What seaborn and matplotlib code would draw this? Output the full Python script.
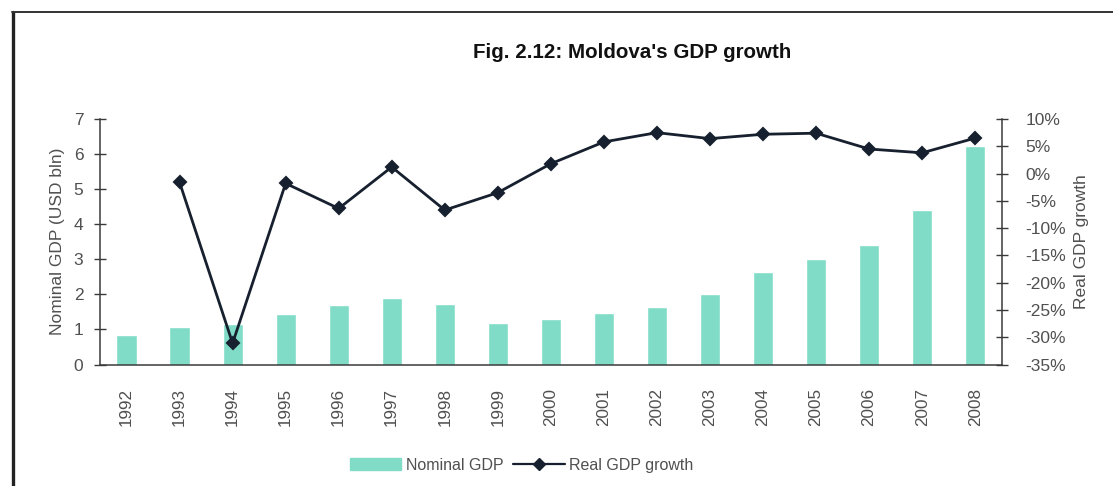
import matplotlib
matplotlib.use("Agg")
import matplotlib.pyplot as plt
import matplotlib.lines as mlines
import seaborn as sns
import pandas as pd
import numpy as np

# Moldova: nominal GDP (USD bn) and real GDP growth (%)
years = [str(y) for y in range(1992, 2009)]
nominal_gdp = [0.84, 1.07, 1.15, 1.44, 1.69, 1.91, 1.72, 1.18, 1.29, 1.46,
               1.64, 2.00, 2.63, 3.00, 3.40, 4.40, 6.24]
growth_years = years[1:]
real_growth = [-1.6, -31.1, -1.8, -6.4, 1.2, -6.7, -3.5, 1.8, 5.8, 7.5,
               6.4, 7.2, 7.4, 4.5, 3.8, 6.5]

bar_color = "#80dcc6"
line_color = "#17202e"
text_color = "#505050"
axis_color = "#3a3a3a"

sns.set_theme(style="white")
plt.rcParams["font.family"] = ["Liberation Sans", "DejaVu Sans"]

fig = plt.figure(figsize=(11.13, 4.86), dpi=100)
ax = fig.add_axes([100 / 1113, 1 - 364.5 / 486, 901.7 / 1113, 245.5 / 486])

df_bar = pd.DataFrame({"year": years, "gdp": nominal_gdp})
sns.barplot(data=df_bar, x="year", y="gdp", order=years, color=bar_color,
            saturation=1, width=0.38, ax=ax, zorder=2)

ax2 = ax.twinx()
df_line = pd.DataFrame({"year": growth_years, "growth": real_growth})
sns.pointplot(data=df_line, x="year", y="growth", order=years,
              color=line_color, markers="D", markersize=6.5, linewidth=2.0,
              ax=ax2, zorder=3)

# Left axis
ax.set_ylim(0, 7)
ax.set_yticks(range(0, 8))
ax.set_xlim(-0.5, len(years) - 0.5)
ax.set_ylabel("Nominal GDP (USD bln)", fontsize=12.5, color=text_color, labelpad=6)
ax.set_xlabel("")

# Right axis
ax2.set_ylim(-35, 10)
ax2.set_yticks(range(-35, 11, 5))
ax2.set_yticklabels([f"{v}%" for v in range(-35, 11, 5)])
ax2.set_ylabel("Real GDP growth", fontsize=12.5, color=text_color, labelpad=6)
ax2.set_xlabel("")
ax2.set_xlim(-0.5, len(years) - 0.5)

# Category ticks sit on the boundaries between years; labels centred on bars
ax.set_xticks(np.arange(-0.5, len(years), 1.0))
ax.set_xticklabels([])
ax.set_xticks(np.arange(len(years)), minor=True)
ax.set_xticklabels(years, minor=True, rotation=90, fontsize=12.3, color=text_color)
ax.tick_params(axis="x", which="major", direction="inout", length=8, width=1,
               color=axis_color)
ax.tick_params(axis="x", which="minor", length=0, pad=17)
ax.tick_params(axis="y", direction="inout", length=8, width=1, color=axis_color,
               labelsize=12.5, labelcolor=text_color, pad=8)
ax2.tick_params(axis="y", direction="inout", length=8, width=1, color=axis_color,
                labelsize=12.5, labelcolor=text_color, pad=13)

for a in (ax, ax2):
    a.spines["top"].set_visible(False)
    for s in ("left", "right", "bottom"):
        a.spines[s].set_color(axis_color)
        a.spines[s].set_linewidth(1.1)
ax.spines["right"].set_visible(False)
ax2.spines["left"].set_visible(False)
ax2.spines["bottom"].set_visible(False)
ax.grid(False)
ax2.grid(False)

fig.text(632 / 1113, 1 - 52 / 486, "Fig. 2.12: Moldova's GDP growth",
         ha="center", va="center", fontsize=14.8, fontweight="bold", color="#111111")

# Legend
bar_handle = plt.Rectangle((0, 0), 1, 1, color=bar_color)
line_handle = mlines.Line2D([], [], color=line_color, marker="D", markersize=6,
                            linewidth=1.6)
fig.legend([bar_handle, line_handle], ["Nominal GDP", "Real GDP growth"],
           loc="center", bbox_to_anchor=(522 / 1113, 1 - 465 / 486), ncol=2,
           frameon=False, fontsize=11.5, handlelength=3.2, handletextpad=0.3,
           columnspacing=0.6, labelcolor=text_color)

# Page frame on the left and top edges
fig.add_artist(mlines.Line2D([13 / 1113, 13 / 1113], [0, 1 - 12 / 486],
                             transform=fig.transFigure, color="#222222", linewidth=2.4))
fig.add_artist(mlines.Line2D([12 / 1113, 1], [1 - 12 / 486, 1 - 12 / 486],
                             transform=fig.transFigure, color="#333333", linewidth=1.4))

fig.savefig("out.png", dpi=100)
